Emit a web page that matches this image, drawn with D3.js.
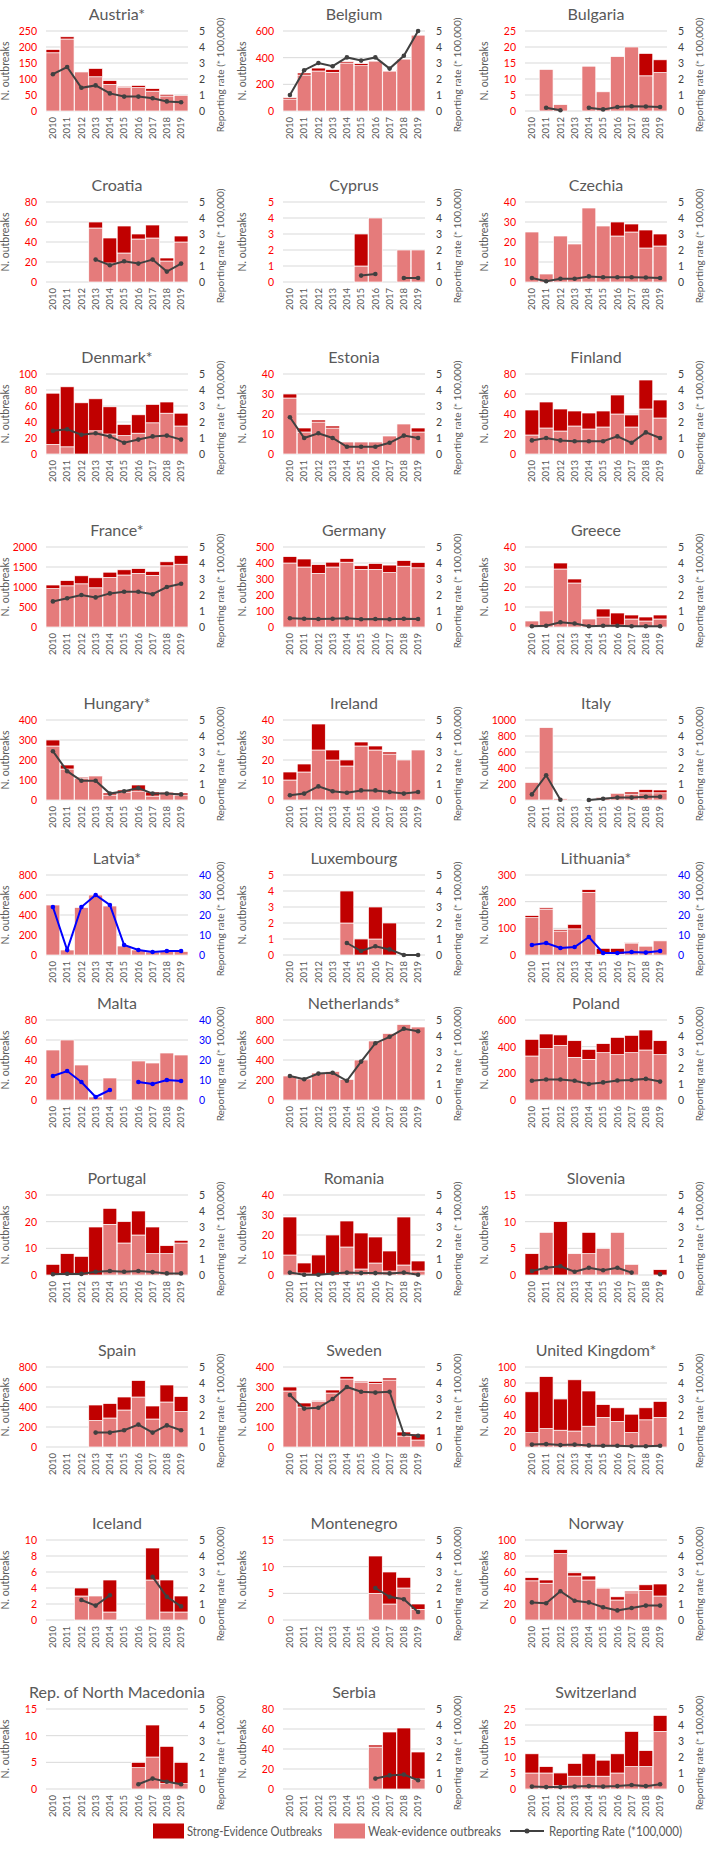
<!DOCTYPE html>
<html><head><meta charset="utf-8">
<script src="https://cdn.jsdelivr.net/npm/d3@7"></script>
<style>body{margin:0;background:#fff}svg{display:block}text{font-family:Lato,"Open Sans",sans-serif}</style>
</head><body><svg id="c" width="709" height="1849"></svg>
<script>
const years = [2010,2011,2012,2013,2014,2015,2016,2017,2018,2019];
const countries = ["Austria*","Belgium","Bulgaria","Croatia","Cyprus","Czechia","Denmark*","Estonia","Finland","France*","Germany","Greece","Hungary*","Ireland","Italy","Latvia*","Luxembourg","Lithuania*","Malta","Netherlands*","Poland","Portugal","Romania","Slovenia","Spain","Sweden","United Kingdom*","Iceland","Montenegro","Norway","Rep. of North Macedonia","Serbia","Switzerland"];
const leftMax  = [250,600,25, 80,5,40, 100,40,80, 2000,500,40, 400,40,1000, 800,5,300, 80,800,600, 30,40,15, 800,400,100, 10,15,100, 15,80,25];
const leftStep = [50,200,5, 20,1,10, 20,10,20, 500,100,10, 100,10,200, 200,1,100, 20,200,200, 10,10,5, 200,100,20, 2,5,20, 5,20,5];
const blueAxis = [false,false,false, false,false,false, false,false,false, false,false,false, false,false,false, true,false,true, true,false,false, false,false,false, false,false,false, false,false,false, false,false,false];
const weak = [
 [182,225,122,107,83,73,73,62,47,49],
 [90,270,300,290,360,340,375,300,390,570],
 [null,13,2,null,14,6,17,20,11,12],
 [null,null,null,54,19,29,43,44,21,40],
 [null,null,null,null,null,1,4,null,2,2],
 [25,4,23,19,37,28,23,25,17,18],
 [12,9,0,29,25,23,26,39,51,35],
 [28,11,16,13,6,6,6,9,15,11],
 [19,26,23,28,25,27,40,27,45,36],
 [960,1030,1080,980,1240,1300,1340,1290,1530,1570],
 [400,375,335,375,405,360,360,340,380,370],
 [3,8,29,22,4,5,1,4,3,4],
 [270,155,110,120,25,40,45,20,35,25],
 [10,14,25,20,17,27,25,23,20,25],
 [220,905,15,null,5,30,80,75,90,90],
 [500,50,475,600,490,90,50,30,35,35],
 [null,null,null,null,2,0,1,0,null,null],
 [140,172,90,98,235,3,3,45,33,53],
 [50,60,35,3,22,null,39,37,47,45],
 [240,210,270,285,205,400,590,665,755,730],
 [330,385,410,320,305,355,340,355,375,340],
 [0,0,0,0,19,12,15,8,8,12],
 [10,1,0,0,14,3,6,2,5,2],
 [0,8,0,4,4,5,8,2,null,0],
 [null,null,null,265,290,370,500,280,450,355],
 [280,200,228,270,340,325,318,335,55,35],
 [18,23,21,20,26,37,32,18,34,37],
 [null,null,3,3,1,null,null,5,1,1],
 [null,null,null,null,null,null,5,3,6,2],
 [49,46,83,55,50,40,25,34,37,30],
 [null,null,null,null,null,null,4,6,1,1],
 [null,null,null,null,null,null,42,0,0,10],
 [5,5,1,4,4,4,5,7,7,18]
];
const strong = [
 [10,7,0,26,12,4,7,8,5,0],
 [10,15,22,20,10,15,5,5,5,5],
 [null,0,0,null,0,0,0,0,7,4],
 [null,null,null,6,25,27,5,13,3,6],
 [null,null,null,null,null,2,0,null,0,0],
 [0,0,0,0,0,0,7,4,9,6],
 [64,75,64,40,34,14,23,23,14,16],
 [2,2,1,1,0,0,0,0,0,2],
 [25,26,22,15,16,16,19,12,29,18],
 [90,130,200,250,130,130,120,100,100,220],
 [40,50,55,30,23,23,37,47,35,33],
 [0,0,3,2,0,4,6,2,2,2],
 [30,20,5,0,10,10,30,20,5,10],
 [4,4,13,5,3,2,2,1,0,0],
 [0,0,0,null,0,5,5,25,40,35],
 [0,0,0,0,0,0,0,0,0,0],
 [null,null,null,null,2,1,2,2,null,null],
 [8,5,5,17,10,22,22,3,0,0],
 [0,0,0,0,0,null,0,0,0,0],
 [0,0,0,0,0,0,0,0,0,0],
 [125,110,78,125,75,68,130,130,150,105],
 [4,8,7,18,6,8,9,10,3,1],
 [19,5,10,20,13,18,13,10,24,5],
 [4,0,10,0,4,0,0,0,null,1],
 [null,null,null,155,145,130,165,130,170,150],
 [20,20,4,15,12,5,10,10,20,30],
 [51,65,39,64,44,16,17,23,15,20],
 [null,null,1,0,4,null,null,4,4,2],
 [null,null,null,null,null,null,7,6,2,1],
 [4,4,5,4,5,1,4,2,7,15],
 [null,null,null,null,null,null,1,6,7,4],
 [null,null,null,null,null,null,2,57,61,27],
 [6,2,4,4,7,5,6,11,5,5]
];
const rate = [
 [2.3,2.75,1.45,1.6,1.1,0.9,0.9,0.8,0.6,0.55],
 [1.0,2.55,3.0,2.8,3.35,3.15,3.35,2.65,3.45,5.0],
 [null,0.2,0.05,null,0.2,0.1,0.25,0.3,0.28,0.25],
 [null,null,null,1.4,1.05,1.3,1.15,1.4,0.65,1.15],
 [null,null,null,null,null,0.4,0.5,null,0.25,0.25],
 [0.25,0.05,0.2,0.2,0.35,0.3,0.3,0.3,0.28,0.25],
 [1.45,1.55,1.2,1.3,1.1,0.7,0.9,1.1,1.15,0.9],
 [2.3,1.0,1.3,1.0,0.45,0.45,0.45,0.7,1.15,1.0],
 [0.85,1.0,0.85,0.8,0.8,0.8,1.1,0.7,1.35,1.0],
 [1.6,1.8,2.0,1.85,2.1,2.2,2.2,2.05,2.5,2.7],
 [0.55,0.52,0.5,0.52,0.55,0.48,0.5,0.48,0.52,0.5],
 [0.05,0.08,0.3,0.22,0.05,0.08,0.08,0.05,0.05,0.05],
 [3.05,1.8,1.2,1.2,0.4,0.55,0.75,0.4,0.4,0.35],
 [0.3,0.4,0.85,0.55,0.45,0.6,0.6,0.5,0.4,0.5],
 [0.35,1.55,0.02,null,0.0,0.08,0.15,0.15,0.2,0.2],
 [24,2.5,24,30,25,5,2.5,1.5,2,2],
 [null,null,null,null,0.75,0.25,0.55,0.35,0.0,0.0],
 [5,6,3.5,4,9,1,1,1.5,1.2,2],
 [12,14.5,9,1.5,5,null,9,8,10,9.5],
 [1.5,1.3,1.65,1.7,1.2,2.4,3.55,3.95,4.45,4.3],
 [1.2,1.28,1.28,1.2,1.0,1.1,1.22,1.25,1.32,1.15],
 [0.05,0.08,0.07,0.2,0.25,0.2,0.25,0.18,0.1,0.1],
 [0.15,0.02,0.02,0.1,0.15,0.12,0.12,0.1,0.15,0.02],
 [0.25,0.45,0.55,0.2,0.45,0.3,0.45,0.15,null,0.05],
 [null,null,null,0.9,0.9,1.05,1.4,0.9,1.35,1.05],
 [3.25,2.4,2.45,3.0,3.75,3.45,3.4,3.45,0.8,0.7],
 [0.15,0.18,0.12,0.15,0.1,0.08,0.08,0.05,0.05,0.08],
 [null,null,1.25,0.9,1.55,null,null,2.7,1.45,0.85],
 [null,null,null,null,null,null,2.0,1.45,1.3,0.5],
 [1.1,1.05,1.8,1.2,1.1,0.8,0.6,0.75,0.9,0.9],
 [null,null,null,null,null,null,0.3,0.65,0.45,0.3],
 [null,null,null,null,null,null,0.65,0.85,0.9,0.55],
 [0.15,0.12,0.12,0.15,0.18,0.15,0.18,0.25,0.18,0.3]
];
const legendLabels = ["Strong-Evidence Outbreaks","Weak-evidence outbreaks","Reporting Rate (*100,000)"];

const C_STRONG = "#C00000", C_WEAK = "#E57B7B", C_LINE = "#404040", C_BLUE = "#0000FF", C_TXT = "#595959", C_GRID = "#D9D9D9";
const svg = d3.select("#c");
const rowTops = [31,202,374,547,720,875,1020,1195,1367,1540,1709];
const colOff = [46,283,525];
const plotW = 142, plotH = 80;
const fmt = d3.format("d");

countries.forEach((name, i) => {
  const r = Math.floor(i / 3), c = i % 3;
  const g = svg.append("g").attr("transform", `translate(${colOff[c]},${rowTops[r]})`);
  const x = d3.scaleBand().domain(years).range([0, plotW]).paddingInner(0.03);
  const y = d3.scaleLinear().domain([0, leftMax[i]]).range([plotH, 0]);
  const blue = blueAxis[i];
  const yr = d3.scaleLinear().domain([0, blue ? 40 : 5]).range([plotH, 0]);
  const lt = d3.range(0, leftMax[i] + 1e-9, leftStep[i]);
  const rt = blue ? [0,10,20,30,40] : [0,1,2,3,4,5];

  g.selectAll(".grid").data(lt).join("line")
    .attr("x1", 0).attr("x2", plotW)
    .attr("y1", d => y(d)).attr("y2", d => y(d))
    .attr("stroke", C_GRID).attr("stroke-width", 1);

  const la = g.append("g").call(d3.axisLeft(y).tickValues(lt).tickFormat(fmt).tickSize(0).tickPadding(9));
  la.select(".domain").remove();
  la.selectAll("text").attr("fill", "#FF0000").style("font-size", "10.5px").style("font-family", "Lato");

  const ra = g.append("g").attr("transform", `translate(${plotW},0)`)
    .call(d3.axisRight(yr).tickValues(rt).tickFormat(fmt).tickSize(0).tickPadding(11));
  ra.select(".domain").remove();
  ra.selectAll("text").attr("fill", blue ? C_BLUE : C_LINE).style("font-size", "10.5px").style("font-family", "Lato");

  const xa = g.append("g").attr("transform", `translate(0,${plotH})`)
    .call(d3.axisBottom(x).tickSize(0).tickPadding(6));
  xa.select(".domain").remove();
  xa.selectAll("text").attr("fill", C_TXT).style("font-size", "9.5px").style("font-family", "Lato")
    .attr("transform", "rotate(-90)").attr("text-anchor", "end").attr("x", -6).attr("y", 0).attr("dy", "0.35em");

  const rows = years.map((yv, k) => ({ year: yv, w: weak[i][k] || 0, s: strong[i][k] || 0, r: rate[i][k] }));
  g.selectAll(".w").data(rows.filter(d => d.w > 0)).join("rect")
    .attr("x", d => x(d.year)).attr("width", x.bandwidth())
    .attr("y", d => y(d.w)).attr("height", d => y(0) - y(d.w))
    .attr("fill", C_WEAK).attr("stroke", "#fff").attr("stroke-width", 0.7);
  g.selectAll(".s").data(rows.filter(d => d.s > 0)).join("rect")
    .attr("x", d => x(d.year)).attr("width", x.bandwidth())
    .attr("y", d => y(d.w + d.s)).attr("height", d => y(d.w) - y(d.w + d.s))
    .attr("fill", C_STRONG).attr("stroke", "#fff").attr("stroke-width", 0.7);

  const lc = blue ? C_BLUE : C_LINE;
  const line = d3.line().defined(d => d.r != null)
    .x(d => x(d.year) + x.bandwidth() / 2).y(d => yr(d.r));
  g.append("path").datum(rows).attr("d", line).attr("fill", "none")
    .attr("stroke", lc).attr("stroke-width", 2);
  g.selectAll(".pt").data(rows.filter(d => d.r != null)).join("circle")
    .attr("cx", d => x(d.year) + x.bandwidth() / 2).attr("cy", d => yr(d.r))
    .attr("r", 2.3).attr("fill", lc);

  g.append("text").attr("x", plotW / 2).attr("y", -18).attr("text-anchor", "middle")
    .attr("dominant-baseline", "central").attr("fill", C_TXT).style("font-size", "16px").text(name);
  g.append("text").attr("transform", `translate(-41,${plotH / 2}) rotate(-90)`)
    .attr("text-anchor", "middle").attr("dominant-baseline", "central")
    .attr("fill", C_TXT).style("font-size", "10.5px").text("N. outbreaks");
  g.append("text").attr("transform", `translate(${plotW + 32},${plotH / 2 + 4}) rotate(-90)`)
    .attr("text-anchor", "middle").attr("dominant-baseline", "central")
    .attr("fill", C_TXT).style("font-size", "10px").text("Reporting rate (* 100,000)");
});

// legend
const lg = svg.append("g").attr("transform", "translate(0,1831)");
const items = [{x:153, type:"strong", tx:187, tw:135},{x:334, type:"weak", tx:368, tw:133},{x:510, type:"line", tx:549, tw:133}];
items.forEach((it, k) => {
  if (it.type === "line") {
    lg.append("line").attr("x1", it.x).attr("x2", it.x + 34).attr("y1", 0).attr("y2", 0)
      .attr("stroke", C_LINE).attr("stroke-width", 2);
    lg.append("circle").attr("cx", it.x + 17).attr("cy", 0).attr("r", 2.5).attr("fill", C_LINE);
  } else {
    lg.append("rect").attr("x", it.x).attr("y", -7.5).attr("width", 31).attr("height", 15)
      .attr("fill", it.type === "strong" ? C_STRONG : C_WEAK);
  }
  lg.append("text").attr("x", it.tx).attr("y", 0)
    .attr("dominant-baseline", "central").attr("fill", C_TXT).style("font-size", "13px")
    .attr("textLength", it.tw).attr("lengthAdjust", "spacingAndGlyphs")
    .text(legendLabels[k]);
});
</script></body></html>
